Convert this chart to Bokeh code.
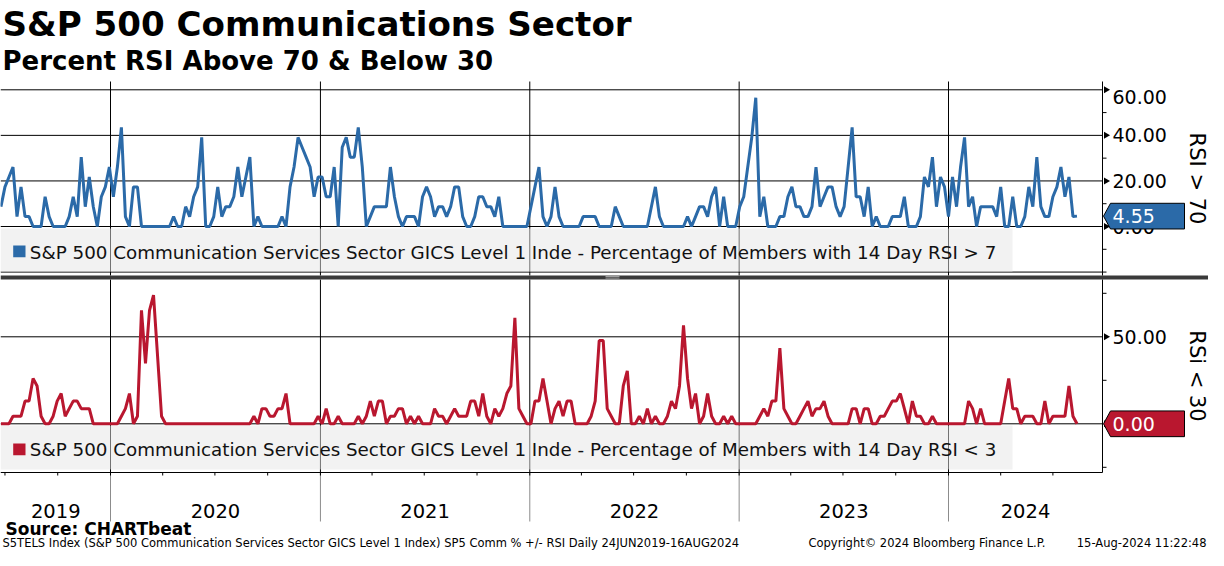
import math
import pandas as pd
from bokeh.plotting import figure
from bokeh.models import Range1d, ColumnDataSource
from bokeh.core.properties import value
from bokeh.embed import file_html
from bokeh.resources import INLINE

# ---------------- data (weekly readings, first week 24 Jun 2019) ----------------
first_week = "2019-06-24"

pct_rsi_above_70 = [
    8.70, 17.39, 21.74, 26.09, 4.35, 17.39, 4.35, 4.35, 0, 0,
    0, 13.04, 4.35, 0, 0, 0, 0, 4.35, 13.04, 4.35,
    30.43, 8.70, 21.74, 8.70, 0, 13.04, 17.39, 26.09, 13.04, 26.09,
    43.48, 4.35, 0, 17.39, 17.39, 0, 0, 0, 0, 0,
    0, 0, 0, 4.35, 0, 0, 8.70, 4.35, 13.04, 17.39,
    39.13, 0, 0, 4.35, 17.39, 4.35, 8.70, 8.70, 13.04, 26.09,
    13.04, 21.74, 30.43, 0, 4.35, 0, 0, 0, 0, 0,
    4.35, 0, 17.39, 26.09, 39.13, 34.78, 30.43, 26.09, 13.04, 21.74,
    21.74, 13.04, 13.04, 26.09, 0, 34.78, 39.13, 30.43, 30.43, 43.48,
    26.09, 0, 4.35, 8.70, 8.70, 8.70, 8.70, 26.09, 13.04, 4.35,
    0, 4.35, 4.35, 4.35, 0, 13.04, 17.39, 13.04, 4.35, 8.70,
    8.70, 4.35, 8.70, 17.39, 17.39, 4.35, 0, 0, 4.35, 13.04,
    13.04, 8.70, 8.70, 4.35, 13.04, 0, 0, 0, 0, 0,
    0, 0, 8.70, 17.39, 26.09, 4.35, 0, 4.35, 17.39, 4.35,
    0, 0, 0, 0, 0, 4.35, 4.35, 4.35, 4.35, 0,
    0, 0, 0, 8.70, 4.35, 0, 0, 0, 0, 0,
    0, 0, 8.70, 17.39, 4.35, 0, 0, 0, 0, 0,
    0, 4.35, 0, 4.35, 8.70, 8.70, 4.35, 13.04, 17.39, 0,
    13.04, 0, 0, 0, 8.70, 13.04, 26.09, 39.13, 56.52, 4.35,
    13.04, 0, 0, 0, 4.35, 4.35, 13.04, 17.39, 8.70, 8.70,
    4.35, 4.35, 8.70, 26.09, 8.70, 13.04, 17.39, 17.39, 8.70, 4.35,
    8.70, 26.09, 43.48, 13.04, 13.04, 4.35, 17.39, 0, 4.35, 0,
    0, 0, 4.35, 4.35, 4.35, 13.04, 0, 0, 0, 4.35,
    21.74, 17.39, 30.43, 8.70, 21.74, 17.39, 4.35, 21.74, 8.70, 26.09,
    39.13, 8.70, 13.04, 0, 8.70, 8.70, 8.70, 8.70, 4.35, 17.39,
    0, 0, 13.04, 0, 0, 4.35, 17.39, 8.70, 30.43, 8.70,
    4.35, 4.35, 13.04, 17.39, 26.09, 13.04, 21.74, 4.35, 4.55,
]

pct_rsi_below_30 = [
    0, 0, 0, 4.35, 4.35, 4.35, 13.04, 13.04, 26.09, 21.74,
    4.35, 0, 0, 4.35, 13.04, 17.39, 4.35, 8.70, 13.04, 13.04,
    8.70, 8.70, 8.70, 0, 0, 0, 0, 0, 0, 0,
    4.35, 8.70, 17.39, 0, 4.35, 65.22, 34.78, 65.22, 73.91, 39.13,
    4.35, 0, 0, 0, 0, 0, 0, 0, 0, 0,
    0, 0, 0, 0, 0, 0, 0, 0, 0, 0,
    0, 0, 0, 4.35, 0, 8.70, 8.70, 4.35, 4.35, 8.70,
    8.70, 17.39, 0, 0, 0, 0, 0, 0, 0, 4.35,
    0, 8.70, 0, 0, 4.35, 0, 0, 0, 0, 4.35,
    0, 4.35, 13.04, 4.35, 13.04, 13.04, 0, 4.35, 4.35, 8.70,
    8.70, 0, 4.35, 0, 4.35, 0, 0, 0, 8.70, 4.35,
    4.35, 0, 4.35, 8.70, 4.35, 4.35, 4.35, 13.04, 13.04, 4.35,
    17.39, 4.35, 0, 8.70, 4.35, 8.70, 17.39, 21.74, 60.87, 8.70,
    4.35, 0, 0, 13.04, 13.04, 26.09, 13.04, 0, 8.70, 13.04,
    4.35, 13.04, 13.04, 0, 0, 0, 0, 4.35, 13.04, 47.83,
    47.83, 8.70, 4.35, 0, 0, 21.74, 30.43, 0, 0, 4.35,
    0, 8.70, 0, 4.35, 0, 0, 4.35, 13.04, 8.70, 21.74,
    56.52, 26.09, 8.70, 17.39, 0, 4.35, 17.39, 4.35, 0, 0,
    4.35, 0, 4.35, 0, 0, 0, 0, 0, 0, 4.35,
    8.70, 4.35, 13.04, 13.04, 43.48, 8.70, 4.35, 0, 0, 4.35,
    8.70, 13.04, 4.35, 8.70, 8.70, 13.04, 4.35, 0, 0, 0,
    0, 0, 8.70, 8.70, 0, 8.70, 8.70, 0, 0, 4.35,
    4.35, 8.70, 13.04, 13.04, 17.39, 8.70, 0, 13.04, 4.35, 4.35,
    0, 0, 4.35, 0, 0, 0, 0, 0, 0, 0,
    0, 13.04, 8.70, 0, 8.70, 0, 0, 0, 0, 0,
    13.04, 26.09, 8.70, 8.70, 0, 4.35, 4.35, 4.35, 0, 0,
    13.04, 0, 4.35, 4.35, 4.35, 4.35, 21.74, 4.35, 0,
]

years = [2019, 2020, 2021, 2022, 2023, 2024]
above_ticks = [0, 20, 40, 60]
above_minor_ticks = [-20, -10, 10, 30, 50]
above_grid = [-20, 0, 20, 40, 60]
below_ticks = [0, 50]
below_minor_ticks = [-25, 25, 75]
below_grid = [0, 50]

TITLE = "S&P 500 Communications Sector"
SUBTITLE = "Percent RSI Above 70 & Below 30"
TOP_LEGEND = "S&P 500 Communication Services Sector GICS Level 1 Inde - Percentage of Members with 14 Day RSI > 7"
BOT_LEGEND = "S&P 500 Communication Services Sector GICS Level 1 Inde - Percentage of Members with 14 Day RSI < 3"
TOP_AXIS_LABEL = "RSI > 70"
BOT_AXIS_LABEL = "RSi < 30"
SOURCE = "Source: CHARTbeat"
FOOT_LEFT = "S5TELS Index (S&P 500 Communication Services Sector GICS Level 1 Index) SP5 Comm % +/- RSI  Daily 24JUN2019-16AUG2024"
FOOT_MID = "Copyright\u00a9 2024 Bloomberg Finance L.P."
FOOT_RIGHT = "15-Aug-2024 11:22:48"

# ---------------- layout / style ----------------
BLUE = "#2b6aa8"
RED = "#b9172f"
FONT = value("DejaVu Sans")
W, H = 1208, 550
AXIS_PX = 1102                 # right value axis position
TOP_PANEL = (81, 275)          # top panel, px from canvas top
BOT_PANEL = (279, 472)         # bottom panel (time axis line at its bottom)
YEAR_LINE_END = 521
TAG_END = 82                   # value tag length (px right of axis)
AXIS_TITLE_X = 1196
TIME_ANCHORS = (("2020-01-01", 110), ("2024-01-01", 948))
ABOVE_ANCHORS = ((0, 226.0), (60, 89.3))
BELOW_ANCHORS = ((0, 423.3), (50, 336.3))


def ms(t):
    return pd.Timestamp(t).value / 1e6


(ta, pa), (tb, pb) = TIME_ANCHORS
ppm = (pb - pa) / (ms(tb) - ms(ta))


def t_px(px):
    return ms(ta) + (px - pa) / ppm


def vrange(anchors):
    (v0, p0), (v1, p1) = anchors
    s = (p0 - p1) / (v1 - v0)
    return Range1d(v0 - (H - p0) / s, v0 + p0 / s), s


r_above, s_above = vrange(ABOVE_ANCHORS)
r_below, s_below = vrange(BELOW_ANCHORS)


def v_to_px(anchors, v):
    (v0, p0), (v1, p1) = anchors
    s = (p0 - p1) / (v1 - v0)
    return p0 - (v - v0) * s


p = figure(width=W, height=H, x_range=Range1d(0, W), y_range=Range1d(H, 0),
           x_axis_location=None, y_axis_location=None, min_border=0,
           toolbar_location=None, output_backend="svg")
p.outline_line_color = None
p.grid.visible = False
p.extra_x_ranges = {"time": Range1d(t_px(0), t_px(W))}
p.extra_y_ranges = {"above": r_above, "below": r_below}

t0, t_axis = t_px(0), t_px(AXIS_PX)
dates = pd.date_range(first_week, periods=len(pct_rsi_above_70), freq="7D")
year_bounds = [ms(f"{y}-01-01") for y in years[1:]]
quarters = [ms(f"{y}-{m:02d}-01") for y in years for m in (1, 4, 7, 10)
            if t0 <= ms(f"{y}-{m:02d}-01") <= t_axis]
year_mid = [(max(ms(f"{y}-01-01"), ms(first_week)) + min(ms(f"{y + 1}-01-01"), t_axis)) / 2
            for y in years]

# vertical year lines
n = len(year_bounds)
p.segment(x0=year_bounds, x1=year_bounds, y0=[TOP_PANEL[0]] * n, y1=[TOP_PANEL[1]] * n,
          x_range_name="time", line_color="black", line_width=1)
p.segment(x0=year_bounds, x1=year_bounds, y0=[BOT_PANEL[0]] * n, y1=[BOT_PANEL[1]] * n,
          x_range_name="time", line_color="black", line_width=1)
p.segment(x0=year_bounds, x1=year_bounds, y0=[BOT_PANEL[1]] * n, y1=[YEAR_LINE_END] * n,
          x_range_name="time", line_color="#8c8c8c", line_width=1)

# horizontal grid lines
p.segment(x0=[t0] * len(above_grid), x1=[t_axis] * len(above_grid), y0=above_grid, y1=above_grid,
          x_range_name="time", y_range_name="above", line_color="black", line_width=1)
p.segment(x0=[t0] * len(below_grid), x1=[t_axis] * len(below_grid), y0=below_grid, y1=below_grid,
          x_range_name="time", y_range_name="below", line_color="black", line_width=1)

# legend boxes (semi-transparent, grid shows through as grey)
LEG_RIGHT = 1012
p.quad(left=[0, 0], right=[LEG_RIGHT, LEG_RIGHT], top=[228, 425], bottom=[271.3, 469],
       fill_color="#e5e5e5", fill_alpha=0.5, line_color=None)
p.quad(left=[12.7], right=[25], top=[245], bottom=[256.7], fill_color=BLUE, line_color=None)
p.quad(left=[12.7], right=[25], top=[443], bottom=[454.7], fill_color=RED, line_color=None)
p.text(x=[29.3, 29.3], y=[251.5, 449], text=[TOP_LEGEND, BOT_LEGEND], text_font=FONT,
       text_font_size="18.3px", text_color="#111111", text_baseline="middle")

# data lines
src_a = ColumnDataSource(dict(date=dates, v=pct_rsi_above_70))
src_b = ColumnDataSource(dict(date=dates, v=pct_rsi_below_30))
p.line("date", "v", source=src_a, x_range_name="time", y_range_name="above",
       line_color=BLUE, line_width=3)
p.line("date", "v", source=src_b, x_range_name="time", y_range_name="below",
       line_color=RED, line_width=3)

# separator band between panels
p.quad(left=[0], right=[W], top=[275], bottom=[279], fill_color="#3a3a3a", line_color=None)
p.segment(x0=[605, 605], x1=[619, 619], y0=[276, 277.6], y1=[276, 277.6],
          line_color="#a0a0a0", line_width=1)

# right value axes
p.segment(x0=[t_axis, t_axis], x1=[t_axis, t_axis], y0=[TOP_PANEL[0], BOT_PANEL[0]],
          y1=[TOP_PANEL[1], BOT_PANEL[1]], x_range_name="time", line_color="black", line_width=1)

dx = 1 / ppm  # one pixel in time units


def value_axis(rng_name, anchors, s, ticks, minor, panel, label, last, color):
    p.scatter(x=[t_axis + 3.5 * dx] * len(ticks), y=ticks, marker="triangle", size=7,
              angle=-math.pi / 2, fill_color="black", line_color=None,
              x_range_name="time", y_range_name=rng_name)
    p.segment(x0=[t_axis] * len(minor), x1=[t_axis + 4 * dx] * len(minor), y0=minor, y1=minor,
              x_range_name="time", y_range_name=rng_name, line_color="black", line_width=1)
    top_val = anchors[0][0] + (anchors[0][1] - panel[0]) / s
    lab_y = [min(t, top_val - 15.5 / s) for t in ticks]
    p.text(x=[t_axis + 10 * dx] * len(ticks), y=lab_y, text=[f"{t:.2f}" for t in ticks],
           x_range_name="time", y_range_name=rng_name, text_font=FONT,
           text_font_size="19px", text_color="black", text_baseline="middle")
    # current value tag
    cy = v_to_px(anchors, last)
    hh = 12.85
    xe = t_axis + TAG_END * dx
    p.patch(x=[t_axis + 1 * dx, t_axis + 8 * dx, xe, xe, t_axis + 8 * dx],
            y=[cy, cy - hh, cy - hh, cy + hh, cy + hh], x_range_name="time",
            fill_color=color, line_color="black", line_width=1)
    p.text(x=[t_axis + 10 * dx], y=[last], text=[f"{last:.2f}"], x_range_name="time",
           y_range_name=rng_name, text_font=FONT, text_font_size="19px",
           text_color="white", text_baseline="middle")
    # axis title
    p.text(x=[AXIS_TITLE_X], y=[(panel[0] + panel[1]) / 2], text=[label], angle=-math.pi / 2,
           text_font=FONT, text_font_size="21px", text_color="black",
           text_align="center", text_baseline="middle")


value_axis("above", ABOVE_ANCHORS, s_above, above_ticks, above_minor_ticks, TOP_PANEL,
           TOP_AXIS_LABEL, pct_rsi_above_70[-1], BLUE)
value_axis("below", BELOW_ANCHORS, s_below, below_ticks, below_minor_ticks, BOT_PANEL,
           BOT_AXIS_LABEL, pct_rsi_below_30[-1], RED)

# time axis
p.segment(x0=[t0], x1=[t_axis], y0=[BOT_PANEL[1]], y1=[BOT_PANEL[1]], x_range_name="time",
          line_color="black", line_width=1)
p.segment(x0=quarters, x1=quarters, y0=[BOT_PANEL[1]] * len(quarters),
          y1=[BOT_PANEL[1] + 3] * len(quarters), x_range_name="time",
          line_color="black", line_width=1)
p.text(x=year_mid, y=[510] * len(years), text=[str(y) for y in years], x_range_name="time",
       text_font=FONT, text_font_size="19.5px", text_color="black",
       text_align="center", text_baseline="middle")

# titles and footer
p.text(x=[2], y=[23], text=[TITLE], text_font=FONT, text_font_style="bold",
       text_font_size="34.1px", text_color="black", text_baseline="middle")
p.text(x=[2], y=[60], text=[SUBTITLE], text_font=FONT, text_font_style="bold",
       text_font_size="26px", text_color="black", text_baseline="middle")
p.text(x=[5], y=[528], text=[SOURCE], text_font=FONT, text_font_style="bold",
       text_font_size="17px", text_color="black", text_baseline="middle")
p.text(x=[2, 808], y=[542, 542], text=[FOOT_LEFT, FOOT_MID], text_font=FONT,
       text_font_size="11.5px", text_color="black", text_baseline="middle")
p.text(x=[1206], y=[542], text=[FOOT_RIGHT], text_font=FONT, text_font_size="11.5px",
       text_color="black", text_baseline="middle", text_align="right")

open("out.html", "w").write(file_html(p, INLINE))
